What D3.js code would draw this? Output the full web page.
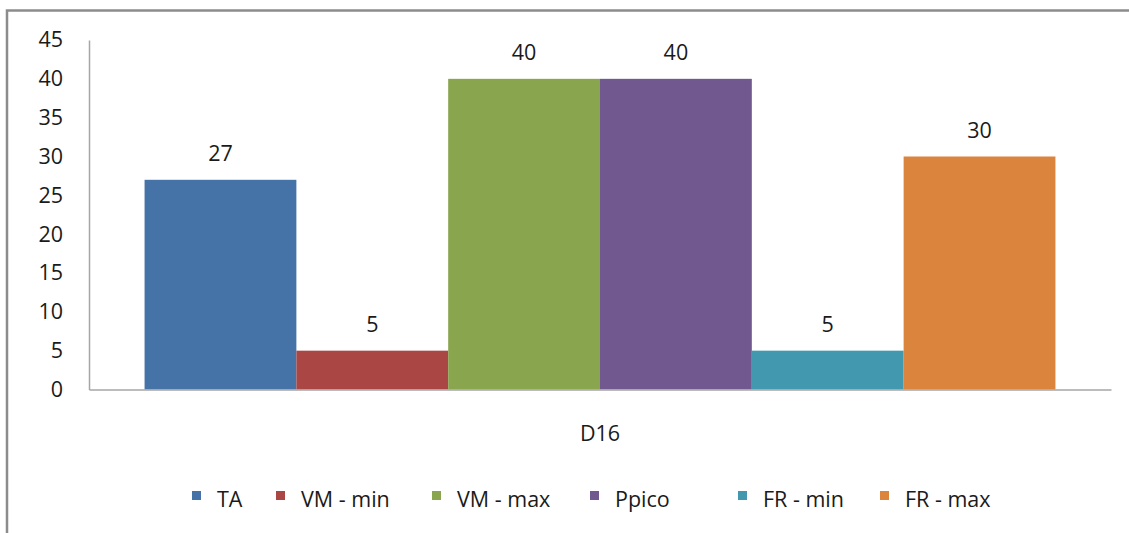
<!DOCTYPE html>
<html>
<head>
<meta charset="utf-8">
<script src="https://cdn.jsdelivr.net/npm/d3@7"></script>
<style>
  html, body { margin: 0; padding: 0; background: #fff; }
  svg { display: block; font-family: "Open Sans", "Noto Sans", sans-serif; }
</style>
</head>
<body>
<svg id="chart" width="1129" height="533"></svg>
<script>
// Chart data
const categories = ["D16"];
const seriesNames = ["TA", "VM - min", "VM - max", "Ppico", "FR - min", "FR - max"];
const seriesValues = [27, 5, 40, 40, 5, 30];
const seriesColors = ["#4572A7", "#AA4643", "#89A54E", "#71588F", "#4198AF", "#DB843D"];
const yTicks = [0, 5, 10, 15, 20, 25, 30, 35, 40, 45];

const svg = d3.select("#chart");
const W = 1129, H = 533;
const FONT = 21.5;
const TEXT = "#1a1a1a";

// Outer chart frame (extends past the right and bottom edges)
svg.append("rect")
  .attr("x", 7).attr("y", 10.5)
  .attr("width", W + 20).attr("height", H + 20)
  .attr("fill", "#fff")
  .attr("stroke", "#8c8c8c")
  .attr("stroke-width", 2.5);

const plot = { left: 89, right: 1111, top: 40, bottom: 389.5 };

const y = d3.scaleLinear().domain([0, 45]).range([plot.bottom, plot.top]);
const x0 = d3.scaleBand().domain(categories).range([plot.left, plot.right]).paddingInner(0).paddingOuter(0.061);
const x1 = d3.scaleBand().domain(seriesNames).range([0, x0.bandwidth()]).padding(0);

// Bars
const g = svg.append("g");
categories.forEach(cat => {
  g.selectAll("rect.bar")
    .data(seriesNames.map((s, i) => ({ s, v: seriesValues[i], c: seriesColors[i] })))
    .enter().append("rect")
    .attr("class", "bar")
    .attr("x", d => x0(cat) + x1(d.s))
    .attr("y", d => y(d.v))
    .attr("width", x1.bandwidth())
    .attr("height", d => y(0) - y(d.v))
    .attr("fill", d => d.c);

  // Value labels
  g.selectAll("text.val")
    .data(seriesNames.map((s, i) => ({ s, v: seriesValues[i] })))
    .enter().append("text")
    .attr("class", "val")
    .attr("x", d => x0(cat) + x1(d.s) + x1.bandwidth() / 2)
    .attr("y", d => y(d.v) - 19)
    .attr("text-anchor", "middle")
    .attr("font-size", FONT)
    .attr("fill", TEXT)
    .text(d => d.v);
});

// Y axis
const yAxis = d3.axisLeft(y).tickValues(yTicks).tickSize(0).tickPadding(26);
const ya = svg.append("g").attr("transform", `translate(${plot.left},0)`).call(yAxis);
ya.select(".domain").attr("stroke", "#a6a6a6").attr("stroke-width", 1.5);
ya.selectAll("text").attr("font-size", FONT).attr("fill", TEXT).attr("font-family", "Open Sans, sans-serif");

// X axis
const xAxis = d3.axisBottom(x0).tickSize(0).tickPadding(36);
const xa = svg.append("g").attr("transform", `translate(0,${plot.bottom})`).call(xAxis);
xa.select(".domain").attr("stroke", "#a6a6a6").attr("stroke-width", 1.5);
xa.selectAll("text").attr("font-size", FONT).attr("fill", TEXT).attr("font-family", "Open Sans, sans-serif");

// Legend
const legendX = [192, 276, 432, 590, 738, 880];
const legend = svg.append("g");
seriesNames.forEach((s, i) => {
  const lg = legend.append("g").attr("transform", `translate(${legendX[i]},0)`);
  lg.append("rect").attr("x", 0).attr("y", 491).attr("width", 9).attr("height", 9).attr("fill", seriesColors[i]);
  lg.append("text").attr("x", 25).attr("y", 507).attr("font-size", FONT).attr("fill", TEXT).text(s);
});
</script>
</body>
</html>
